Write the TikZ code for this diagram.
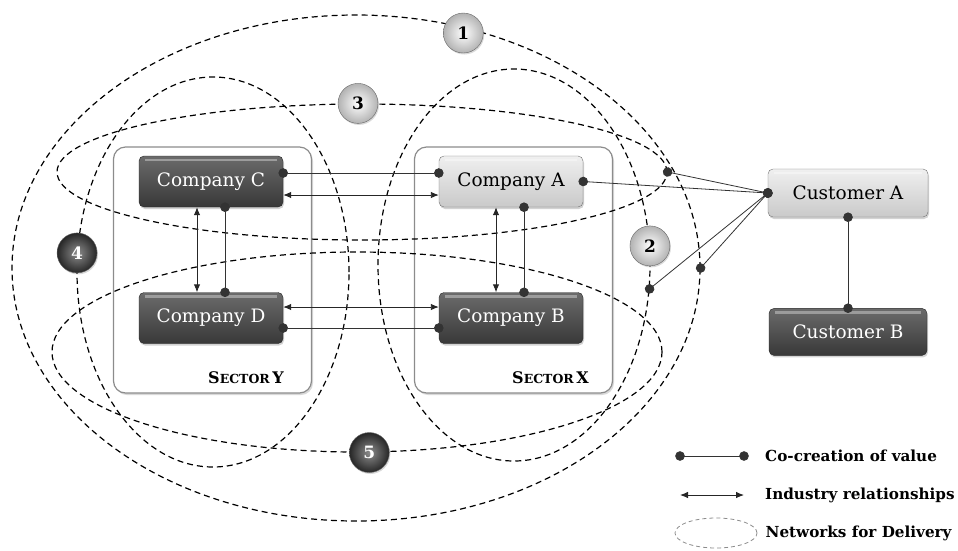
\documentclass[tikz,border=0pt]{standalone}
\usepackage{fontspec}
\setmainfont{DejaVu Serif}
\usetikzlibrary{arrows.meta, positioning, shapes.geometric, shadows}
\tikzset{
  >={Latex[length=8pt,width=6.5pt]}, % filled heads for industry links
  company/.style={rectangle, rounded corners=5pt, minimum width=144pt,
    minimum height=51pt, font=\fontsize{18.5}{21}\selectfont,
    drop shadow={shadow xshift=1pt, shadow yshift=-2pt, opacity=.35},
    path picture={% bevel highlight along the top edge
      \draw[white, opacity=.35, line width=2.5pt]
        ([xshift=6pt, yshift=-4pt]path picture bounding box.north west) --
        ([xshift=-6pt, yshift=-4pt]path picture bounding box.north east);}},
  darkbox/.style={company, top color=black!58, bottom color=black!78,
    draw=black!85, text=white},
  lightbox/.style={company, top color=gray!12, bottom color=gray!42,
    draw=black!55, text=black},
  sector/.style={rectangle, rounded corners=12pt, draw=black!45,
    line width=1.2pt, fill=white, minimum width=198pt, minimum height=246pt,
    drop shadow={shadow xshift=1.5pt, shadow yshift=-2pt, opacity=.3}},
  sectorlabel/.style={font=\bfseries\fontsize{16}{18}\selectfont, inner sep=0pt},
  network/.style={ellipse, draw=black, line width=1.2pt,
    dash pattern=on 6pt off 4pt, inner sep=0pt}, % networks for delivery
  numball/.style={circle, minimum size=40pt, inner sep=0pt, draw=black!60,
    font=\bfseries\fontsize{17}{17}\selectfont,
    drop shadow={shadow xshift=1pt, shadow yshift=-1.5pt, opacity=.3}},
  lightball/.style={numball, inner color=white, outer color=gray!60, text=black},
  darkball/.style={numball, inner color=black!45, outer color=black!85, text=white},
  industry/.style={<->, black!85, line width=.9pt},
  cocreate/.style={{Circle[length=9.5pt]}-{Circle[length=9.5pt]},
    shorten <=-4.75pt, shorten >=-4.75pt, black!80, line width=.8pt},
  keytext/.style={font=\bfseries\fontsize{15.2}{17}\selectfont, inner sep=0pt,
    anchor=west},
}
\newcommand{\sectorname}[1]{S{\fontsize{12.5}{14}\selectfont ECTOR}\,#1}

\begin{document}
\begin{tikzpicture}[x=1pt, y=-1pt]
  \useasboundingbox (0,0) rectangle (958,550);

  % the two sectors
  \node[sector] (secY) at (212.5,270) {};
  \node[sector] (secX) at (513.5,270) {};
  \node[sectorlabel, anchor=east] at ([xshift=-28pt, yshift=16pt]secY.south east) {\sectorname{Y}};
  \node[sectorlabel, anchor=east] at ([xshift=-24pt, yshift=16pt]secX.south east) {\sectorname{X}};

  % networks for delivery
  \node[network, minimum width=688pt, minimum height=506pt] (net1) at (356,268) {};
  \node[network, minimum width=272pt, minimum height=392pt] (net2) at (514,265) {};
  \node[network, minimum width=610pt, minimum height=136pt] (net3) at (362,172) {};
  \node[network, minimum width=272pt, minimum height=390pt] (net4) at (213,272) {};
  \node[network, minimum width=610pt, minimum height=200pt] (net5) at (357,352) {};

  % companies and customers
  \node[darkbox] (compC) at (211,181.5) {Company C};
  \node[lightbox] (compA) at (511,181.5) {Company A};
  \node[darkbox] (compD) at (211,318) {Company D};
  \node[darkbox] (compB) at (511,318) {Company B};
  \node[lightbox, minimum width=160pt, minimum height=48pt] (custA) at (848,193) {Customer A};
  \node[darkbox, minimum width=158pt, minimum height=47pt, below=91pt of custA] (custB) {Customer B};

  \draw[cocreate] ([yshift=8.5pt]compC.east) -- ([yshift=8.5pt]compA.west);
  \draw[industry] ([yshift=-13.5pt]compC.east) -- ([yshift=-13.5pt]compA.west);
  \draw[industry] ([xshift=-14pt]compC.south) -- ([xshift=-14pt]compD.north);
  \draw[cocreate] ([xshift=14pt]compC.south) -- ([xshift=14pt]compD.north);
  \draw[industry] ([xshift=-15pt]compA.south) -- ([xshift=-15pt]compB.north);
  \draw[cocreate] ([xshift=13pt]compA.south) -- ([xshift=13pt]compB.north);
  \draw[industry] ([yshift=11pt]compD.east) -- ([yshift=11pt]compB.west);
  \draw[cocreate] ([yshift=-10pt]compD.east) -- ([yshift=-10pt]compB.west);

  % links to the customers
  \draw[cocreate] (compA.east) -- (custA.west);
  \draw[cocreate] (net3.east) -- (custA.west);
  \draw[cocreate] (net1.east) -- (custA.west);
  \draw[cocreate] (net2.-10) -- (custA.west);
  \draw[cocreate] (custA.south) -- (custB.north);

  % network numbers
  \node[lightball] (ball1) at ([yshift=-6pt]net1.66) {1};
  \node[lightball] (ball2) at (net2.8) {2};
  \node[lightball] (ball3) at ([xshift=-4pt]net3.north) {3};
  \node[darkball] (ball4) at (net4.172) {4};
  \node[darkball] (ball5) at (net5.-83) {5};

  % key
  \coordinate (keyA) at (680,456);
  \coordinate (keyB) at (744,456);
  \draw[cocreate] (keyA) -- (keyB);
  \node[keytext, right=21pt of keyB] {Co-creation of value};
  \coordinate (keyC) at (680,495);
  \coordinate (keyD) at (744,495);
  \draw[industry] (keyC) -- (keyD);
  \node[keytext, right=21pt of keyD] {Industry relationships};
  \node[network, draw=black!45, line width=.8pt, dash pattern=on 4pt off 3pt,
    minimum width=82pt, minimum height=30pt] (keynet) at (716,533) {};
  \node[keytext, right=8pt of keynet] {Networks for Delivery};
\end{tikzpicture}
\end{document}
